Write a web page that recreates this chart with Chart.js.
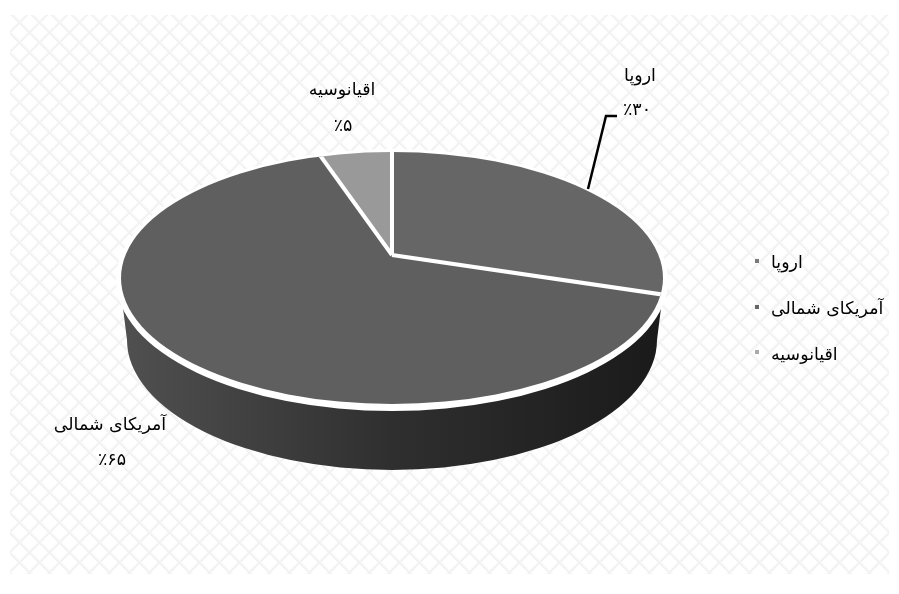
<!DOCTYPE html>
<html>
<head>
<meta charset="utf-8">
<style>
  html, body { margin: 0; padding: 0; background: #fff; }
  #wrap { position: relative; width: 899px; height: 594px; overflow: hidden; }
  #bg { position: absolute; left: 10px; top: 15px; width: 879px; height: 559px;
    background-image:
      repeating-linear-gradient(45deg, #f0f0f0 0, #f6f6f6 1.5px, transparent 3px, transparent 14.14px),
      repeating-linear-gradient(-45deg, #f0f0f0 0, #f6f6f6 1.5px, transparent 3px, transparent 14.14px);
  }
  canvas { position: absolute; left: 0; top: 0; }
</style>
</head>
<body>
<div id="wrap">
  <div id="bg"></div>
  <canvas id="pie" width="899" height="594"></canvas>
</div>
<script src="https://cdn.jsdelivr.net/npm/chart.js@4"></script>
<script>
const categories = ['اروپا', 'آمریکای شمالی', 'اقیانوسیه'];
const values = [30, 65, 5];
const valueLabels = ['٪۳۰', '٪۶۵', '٪۵'];
const sliceColors = ['#666666', '#5f5f5f', '#999999'];
const legendColors = ['#7a7a7a', '#666666', '#aaaaaa'];

const FONT = '17.4px "DejaVu Sans", serif';
const TILT = 0.45;          // y squash of the wedges around the apex
const top3d = { cx: 392, cy: 278, rx: 271, ry: 126 };
const rim3d = { cx: 392, cy: 280, rx: 276, ry: 131 };
const low3d = { cx: 392, cy: 340, rx: 265, ry: 130 };

function ellipsePath(ctx, e) {
    ctx.beginPath();
    ctx.ellipse(e.cx, e.cy, e.rx, e.ry, 0, 0, Math.PI * 2);
}

function drawText(ctx, str, x, y, align) {
    ctx.save();
    ctx.font = FONT;
    ctx.direction = 'rtl';
    ctx.textAlign = align || 'center';
    ctx.textBaseline = 'middle';
    ctx.fillStyle = '#000';
    ctx.shadowColor = '#fff';
    ctx.shadowBlur = 8;
    ctx.fillText(str, x, y);
    ctx.restore();
}

const pie3d = {
    id: 'pie3d',
    beforeDatasetDraw(chart) {
        const ctx = chart.ctx;
        const arc = chart.getDatasetMeta(0).data[0];

        // side wall under the front of the pie
        ctx.save();
        const grad = ctx.createLinearGradient(122, 0, 662, 0);
        grad.addColorStop(0, '#505050');
        grad.addColorStop(0.5, '#2f2f2f');
        grad.addColorStop(1, '#1a1a1a');
        ctx.fillStyle = grad;
        ctx.beginPath();
        ctx.moveTo(122, 300);
        ctx.lineTo(662, 300);
        ctx.ellipse(low3d.cx, low3d.cy, low3d.rx, low3d.ry, 0, 0, Math.PI);
        ctx.closePath();
        ctx.fill();
        ctx.restore();

        // white rim between the top and the wall
        ctx.save();
        ellipsePath(ctx, rim3d);
        ctx.fillStyle = '#fff';
        ctx.fill();
        ctx.restore();

        // wedges are squashed around the apex and cut to the top ellipse
        ctx.save();
        ellipsePath(ctx, top3d);
        ctx.clip();
        ctx.translate(arc.x, arc.y);
        ctx.scale(1, TILT);
        ctx.translate(-arc.x, -arc.y);
    },
    afterDatasetDraw(chart) {
        const ctx = chart.ctx;
        const arcs = chart.getDatasetMeta(0).data;
        ctx.restore();

        // separators keep an even width, so they go on after the squash
        ctx.save();
        ellipsePath(ctx, top3d);
        ctx.clip();
        ctx.strokeStyle = '#fff';
        ctx.lineWidth = 4;
        arcs.forEach(a => {
            ctx.beginPath();
            ctx.moveTo(a.x, a.y);
            ctx.lineTo(a.x + a.outerRadius * Math.cos(a.startAngle),
                       a.y + a.outerRadius * TILT * Math.sin(a.startAngle));
            ctx.stroke();
        });
        ctx.restore();
    },
    afterDraw(chart) {
        const ctx = chart.ctx;

        // leader line of the first label
        ctx.save();
        ctx.strokeStyle = '#000';
        ctx.lineWidth = 2.5;
        ctx.beginPath();
        ctx.moveTo(588, 189);
        ctx.lineTo(606, 116);
        ctx.lineTo(617, 116);
        ctx.stroke();
        ctx.restore();

        // data labels
        const labelPos = [[640, 76, 637, 110], [110, 425, 112, 460], [342, 90, 343, 126]];
        categories.forEach((c, i) => {
            const p = labelPos[i];
            drawText(ctx, c, p[0], p[1]);
            drawText(ctx, valueLabels[i], p[2], p[3]);
        });

        // legend
        const legendY = [263, 309, 355];
        const markerY = [259, 305, 350];
        categories.forEach((c, i) => {
            ctx.fillStyle = legendColors[i];
            ctx.fillRect(755, markerY[i], 4, 4);
            drawText(ctx, c, 771, legendY[i], 'left');
        });
    }
};

new Chart(document.getElementById('pie').getContext('2d'), {
    type: 'pie',
    data: {
        labels: categories,
        datasets: [{
            data: values,
            backgroundColor: sliceColors,
            borderWidth: 0,
            clip: false
        }]
    },
    options: {
        responsive: false,
        animation: false,
        radius: 345,
        layout: { padding: { left: 0, top: 0, right: 115, bottom: 84 } },
        plugins: { legend: { display: false }, tooltip: { enabled: false } }
    },
    plugins: [pie3d]
});
</script>
</body>
</html>
